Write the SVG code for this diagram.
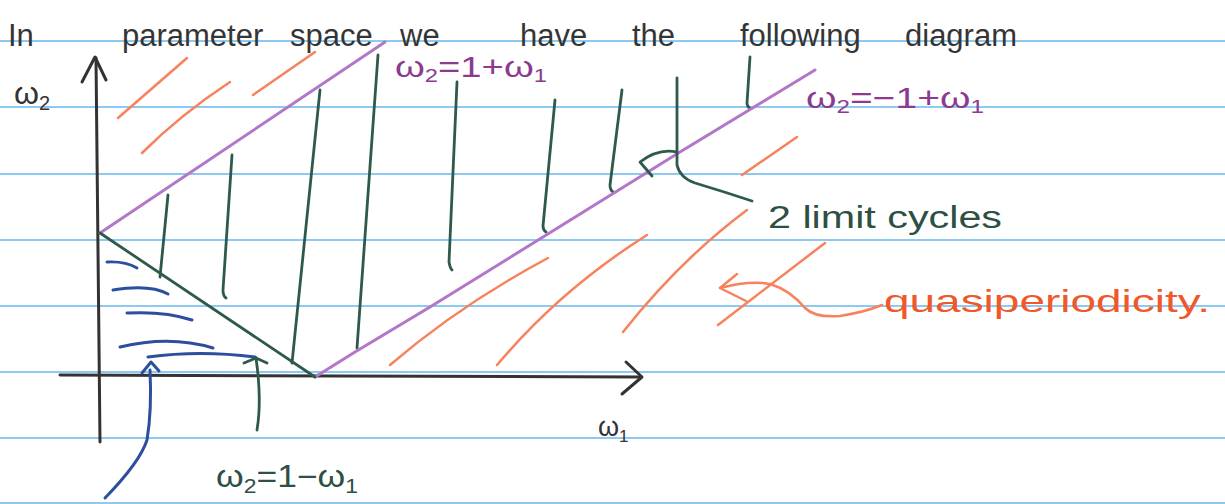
<svg xmlns="http://www.w3.org/2000/svg" width="1225" height="504" viewBox="0 0 1225 504">
<defs>
<style>
.rule{stroke:#8ec9f2;stroke-width:2}
.axis{stroke:#333;stroke-width:3;fill:none;stroke-linecap:round;stroke-linejoin:round}
.purple{stroke:#b377c7;stroke-width:3;fill:none;stroke-linecap:round;stroke-linejoin:round}
.green{stroke:#2e5a4b;stroke-width:2.8;fill:none;stroke-linecap:round;stroke-linejoin:round}
.orange{stroke:#f7825c;stroke-width:2.5;fill:none;stroke-linecap:round;stroke-linejoin:round}
.blue{stroke:#2b4f9e;stroke-width:3;fill:none;stroke-linecap:round;stroke-linejoin:round}
.t{font-family:"Liberation Sans",Arial,sans-serif}
.hd{font-size:31px;fill:#353535}
.pl{font-size:29px;fill:#8b3a90}
.gl{font-size:31px;fill:#2e4f44}
.ol{font-size:32px;fill:#f0582c}
.bl{font-size:32px;fill:#333}
</style>
</defs>
<rect width="1225" height="504" fill="#ffffff"/>
<g id="paper">
<line class="rule" x1="0" y1="41" x2="1225" y2="41"/>
<line class="rule" x1="0" y1="107" x2="1225" y2="107"/>
<line class="rule" x1="0" y1="174" x2="1225" y2="174"/>
<line class="rule" x1="0" y1="240" x2="1225" y2="240"/>
<line class="rule" x1="0" y1="306" x2="1225" y2="306"/>
<line class="rule" x1="0" y1="372" x2="1225" y2="372"/>
<line class="rule" x1="0" y1="438" x2="1225" y2="438"/>
<line class="rule" x1="0" y1="503" x2="1225" y2="503"/>
</g>
<g id="heading">
<text class="t hd" y="46"><tspan x="8">In</tspan><tspan x="122">parameter</tspan><tspan x="290">space</tspan><tspan x="400">we</tspan><tspan x="520">have</tspan><tspan x="632">the</tspan><tspan x="740">following</tspan><tspan x="905">diagram</tspan></text>
</g>
<g id="axes">
<path class="axis" d="M100,442 L96,58"/>
<path class="axis" d="M82,82 L95,57 L106,80"/>
<path class="axis" d="M60,375 L640,377"/>
<path class="axis" d="M626,362 L642,377 L622,394"/>
<text class="t bl" x="14" y="104">ω<tspan font-size="20" dy="6">2</tspan></text>
<text class="t" font-size="27" fill="#333" x="598" y="436">ω<tspan font-size="17" dy="6">1</tspan></text>
</g>
<g id="hatch-quasiperiodic">
<path class="orange" d="M118,118 L187,58"/>
<path class="orange" d="M142,153 Q180,115 230,82"/>
<path class="orange" d="M253,95 L315,52"/>
<path class="orange" d="M390,365 Q460,305 548,258"/>
<path class="orange" d="M497,365 Q560,290 647,235"/>
<path class="orange" d="M623,332 Q680,260 747,210"/>
<path class="orange" d="M718,325 L825,243"/>
<path class="orange" d="M742,175 L797,137"/>
</g>
<g id="hatch-stable">
<path class="blue" d="M107,262 Q125,261 137,268"/>
<path class="blue" d="M113,290 Q150,284 168,294"/>
<path class="blue" d="M127,313 Q165,311 192,320"/>
<path class="blue" d="M120,347 Q170,335 213,348"/>
<path class="blue" d="M148,357 Q200,350 255,357"/>
</g>
<g id="vertical-lines">
<path class="green" d="M168,195 L160,277"/>
<path class="green" d="M232,155 L223,290 Q223,296 226,298"/>
<path class="green" d="M320,90 L292,363"/>
<path class="green" d="M378,55 L357,348"/>
<path class="green" d="M457,82 L449,262 Q450,268 452,270"/>
<path class="green" d="M555,100 L543,226 Q543,230 546,232"/>
<path class="green" d="M622,90 L610,185 Q610,190 613,192"/>
<path class="green" d="M750,57 L747,103 Q747,107 750,108"/>
<path class="green" d="M256,358 Q262,400 257,430"/>
<path class="green" d="M244,363 L256,358 L267,363"/>
</g>
<g id="boundaries">
<path class="purple" d="M100,233 L385,42"/>
<path class="purple" d="M315,377 L355,352 L430,307 L543,237 L680,152 L815,70"/>
<path class="green" d="M100,233 L315,377"/>
</g>
<g id="connectors">
<path class="green" d="M677,78 L677,165 Q680,178 695,183 Q725,192 752,201"/>
<path class="green" d="M677,152 Q658,148 640,162 L652,176"/>
<path class="orange" d="M720,288 Q750,280 770,284 Q790,290 805,308 Q815,318 840,316 Q865,312 882,305"/>
<path class="orange" d="M737,274 L720,288 L746,301"/>
<path class="blue" d="M105,498 Q140,462 147,440 Q152,410 150,370"/>
<path class="blue" d="M142,373 L151,362 L159,371"/>
</g>
<g id="label-upper">
<text class="t pl" x="395" y="77" textLength="152" lengthAdjust="spacingAndGlyphs">ω<tspan font-size="18" dy="5">2</tspan><tspan dy="-5">=1+ω</tspan><tspan font-size="18" dy="5">1</tspan></text>
</g>
<g id="label-lower">
<text class="t pl" x="806" y="108" textLength="178" lengthAdjust="spacingAndGlyphs">ω<tspan font-size="18" dy="5">2</tspan><tspan dy="-5">=−1+ω</tspan><tspan font-size="18" dy="5">1</tspan></text>
</g>
<g id="label-limit-cycles">
<text class="t gl" x="768" y="228" textLength="234" lengthAdjust="spacingAndGlyphs">2 limit cycles</text>
</g>
<g id="label-quasi">
<text class="t ol" x="884" y="312" textLength="326" lengthAdjust="spacingAndGlyphs">quasiperiodicity.</text>
</g>
<g id="label-diagonal">
<text class="t gl" x="216" y="487" textLength="142" lengthAdjust="spacingAndGlyphs">ω<tspan font-size="20" dy="6">2</tspan><tspan dy="-6">=1−ω</tspan><tspan font-size="20" dy="6">1</tspan></text>
</g>
</svg>
